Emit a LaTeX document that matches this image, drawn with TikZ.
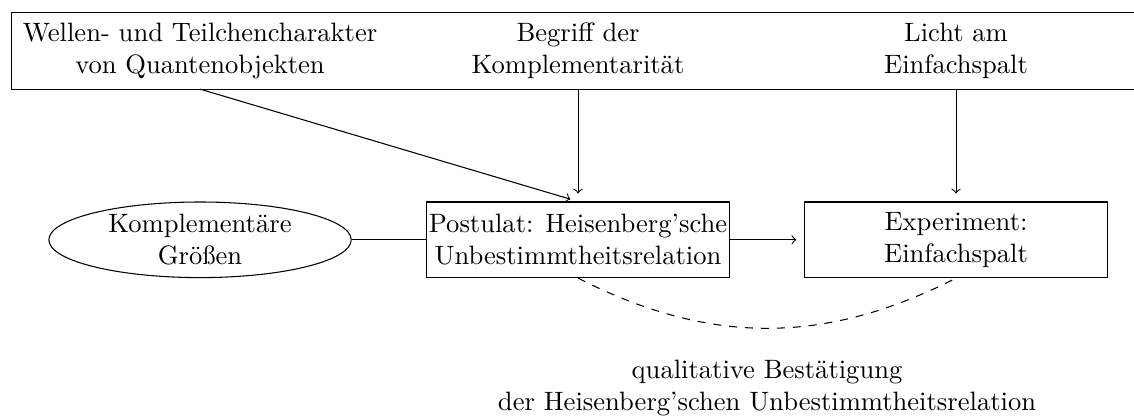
\documentclass[tikz,border=0pt]{standalone}
\usepackage{fontspec}
\usetikzlibrary{arrows,shapes.geometric}

\begin{document}
\begin{tikzpicture}[->,>=to,shorten >=3pt,node distance=5cm]
  \tikzstyle{box}=[draw,rectangle,minimum width=4cm,minimum height=1cm,align=center,inner sep=1pt]
  \tikzstyle{topic}=[minimum height=1cm,align=center]
  \useasboundingbox (-2.646,-2.331) rectangle (12.354,3.172);

  \node[draw,ellipse,minimum width=4cm,minimum height=1cm,inner sep=0pt,align=center] (K) {Komplementäre\\Größen};
  \node[box] (P) [right of=K] {Postulat: Heisenberg'sche\\Unbestimmtheitsrelation};
  \node[box] (E) [right of=P] {Experiment:\\Einfachspalt};

  \node[topic] (W) [above of=K,node distance=2.5cm] {Wellen- und Teilchencharakter\\von Quantenobjekten};
  \node[topic] (B) [above of=P,node distance=2.5cm] {Begriff der\\Komplementarität};
  \node[topic] (L) [above of=E,node distance=2.5cm] {Licht am\\Einfachspalt};

  \draw[-] ([xshift=-2.5cm]W.south) rectangle ([xshift=2.5cm]L.north);

  \path (W.south) edge (P.north)
        (B) edge (P)
        (L) edge (E)
        (K) edge[-,shorten >=0pt] (P)
        (P) edge (E)
        (P.south) edge[dashed,-,shorten >=0pt,bend right=27]
          node[below=0.3cm,align=center] (Q) {qualitative Bestätigung\\der Heisenberg'schen Unbestimmtheitsrelation} (E.south);
\end{tikzpicture}
\end{document}
